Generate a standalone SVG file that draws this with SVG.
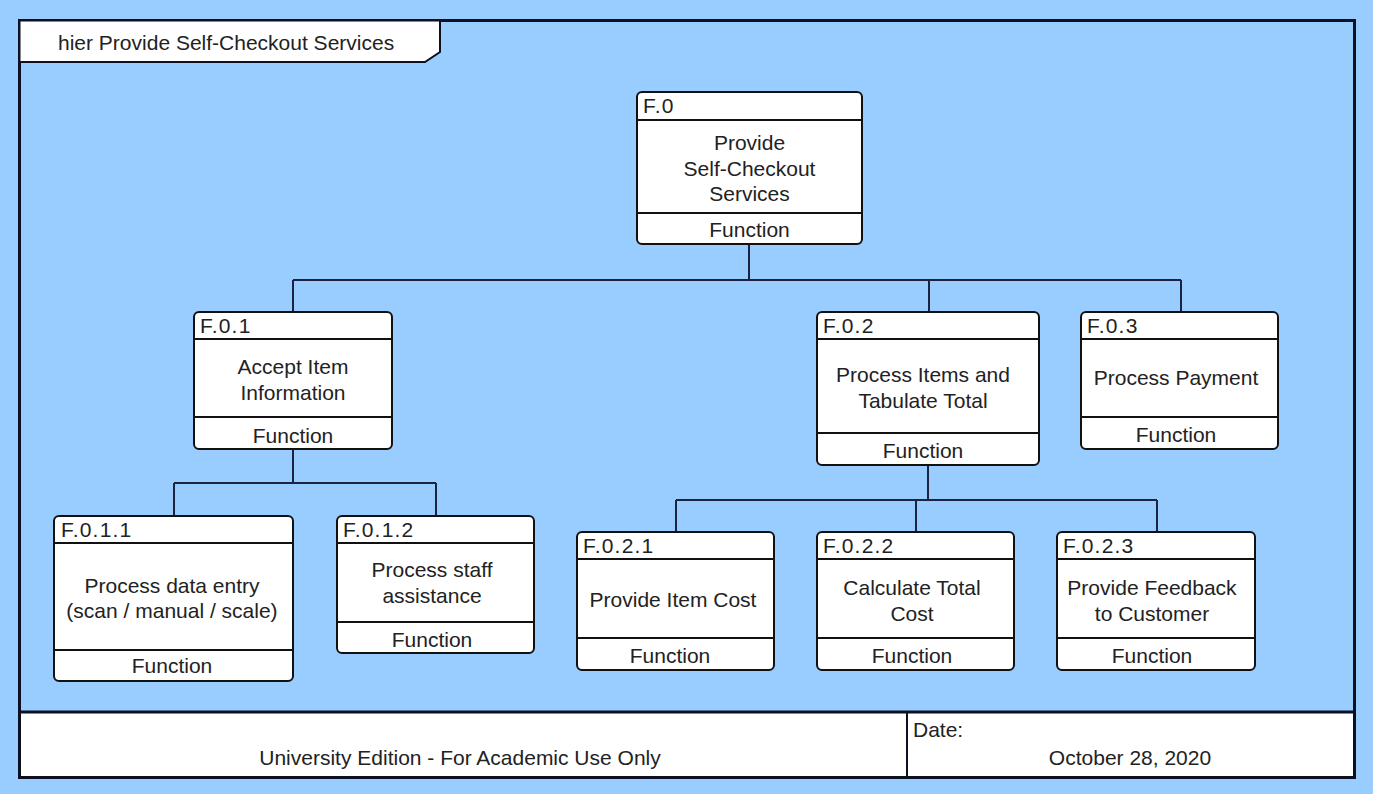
<svg xmlns="http://www.w3.org/2000/svg" width="1373" height="794" viewBox="0 0 1373 794">
<style>
text{font-family:"Liberation Sans",Arial,sans-serif;font-size:21px;fill:#222;}
.id{letter-spacing:1.2px;}
.c{text-anchor:middle;}
.box{fill:#fff;stroke:#111;stroke-width:2;}
.sep{stroke:#111;stroke-width:2;}
.conn{fill:none;stroke:#1a2440;stroke-width:2;}
</style>
<rect x="0" y="0" width="1373" height="794" fill="#99ccff"/>
<g id="frame">
<rect x="19.5" y="20.5" width="1335" height="757" fill="#99ccff" stroke="#0c1020" stroke-width="3"/>
<polygon points="19.5,20.5 440,20.5 440,52 425,62 19.5,62" fill="#fff" stroke="#0c1020" stroke-width="2"/>
<text x="58" y="50">hier Provide Self-Checkout Services</text>
</g>
<g id="footer">
<rect x="19.5" y="712" width="1335" height="65.5" fill="#fff" stroke="#0c1020" stroke-width="3"/>
<line x1="907" y1="712" x2="907" y2="778" stroke="#0c1020" stroke-width="2"/>
<text class="c" x="460" y="765">University Edition - For Academic Use Only</text>
<text x="913" y="737">Date:</text>
<text x="1130" y="765" class="c">October 28, 2020</text>
</g>
<g id="connectors">
<path class="conn" d="M749,244 V280 M293,280 H1181 M293,280 V312 M929,280 V312 M1181,280 V312"/>
<path class="conn" d="M293,449 V483 M174,483 H436 M174,483 V516 M436,483 V516"/>
<path class="conn" d="M928,465 V500 M676,500 H1157 M676,500 V532 M916,500 V532 M1157,500 V532"/>
</g>
<g id="F.0">
<rect class="box" x="637" y="92" width="225" height="152" rx="5"/>
<line class="sep" x1="637" y1="120" x2="862" y2="120"/>
<line class="sep" x1="637" y1="213" x2="862" y2="213"/>
<text class="id" x="643" y="113">F.0</text>
<text class="c" x="749.5" y="150">Provide</text>
<text class="c" x="749.5" y="176">Self-Checkout</text>
<text class="c" x="749.5" y="201">Services</text>
<text class="c" x="749.5" y="237">Function</text>
</g>
<g id="F.0.1">
<rect class="box" x="194" y="312" width="198" height="137" rx="5"/>
<line class="sep" x1="194" y1="339" x2="392" y2="339"/>
<line class="sep" x1="194" y1="417" x2="392" y2="417"/>
<text class="id" x="200" y="333">F.0.1</text>
<text class="c" x="293" y="374">Accept Item</text>
<text class="c" x="293" y="400">Information</text>
<text class="c" x="293" y="443">Function</text>
</g>
<g id="F.0.2">
<rect class="box" x="817" y="312" width="222" height="153" rx="5"/>
<line class="sep" x1="817" y1="339" x2="1039" y2="339"/>
<line class="sep" x1="817" y1="433" x2="1039" y2="433"/>
<text class="id" x="823" y="333">F.0.2</text>
<text class="c" x="923" y="382">Process Items and</text>
<text class="c" x="923" y="408">Tabulate Total</text>
<text class="c" x="923" y="458">Function</text>
</g>
<g id="F.0.3">
<rect class="box" x="1081" y="312" width="197" height="137" rx="5"/>
<line class="sep" x1="1081" y1="339" x2="1278" y2="339"/>
<line class="sep" x1="1081" y1="417" x2="1278" y2="417"/>
<text class="id" x="1087" y="333">F.0.3</text>
<text class="c" x="1176" y="385">Process Payment</text>
<text class="c" x="1176" y="442">Function</text>
</g>
<g id="F.0.1.1">
<rect class="box" x="54" y="516" width="239" height="165" rx="5"/>
<line class="sep" x1="54" y1="543" x2="293" y2="543"/>
<line class="sep" x1="54" y1="650" x2="293" y2="650"/>
<text class="id" x="61" y="537">F.0.1.1</text>
<text class="c" x="172" y="593">Process data entry</text>
<text class="c" x="172" y="618">(scan / manual / scale)</text>
<text class="c" x="172" y="673">Function</text>
</g>
<g id="F.0.1.2">
<rect class="box" x="337" y="516" width="197" height="137" rx="5"/>
<line class="sep" x1="337" y1="543" x2="534" y2="543"/>
<line class="sep" x1="337" y1="622" x2="534" y2="622"/>
<text class="id" x="343" y="537">F.0.1.2</text>
<text class="c" x="432" y="577">Process staff</text>
<text class="c" x="432" y="603">assistance</text>
<text class="c" x="432" y="647">Function</text>
</g>
<g id="F.0.2.1">
<rect class="box" x="577" y="532" width="197" height="138" rx="5"/>
<line class="sep" x1="577" y1="559" x2="774" y2="559"/>
<line class="sep" x1="577" y1="638" x2="774" y2="638"/>
<text class="id" x="583" y="553">F.0.2.1</text>
<text class="c" x="673" y="607">Provide Item Cost</text>
<text class="c" x="670" y="663">Function</text>
</g>
<g id="F.0.2.2">
<rect class="box" x="817" y="532" width="197" height="138" rx="5"/>
<line class="sep" x1="817" y1="559" x2="1014" y2="559"/>
<line class="sep" x1="817" y1="638" x2="1014" y2="638"/>
<text class="id" x="823" y="553">F.0.2.2</text>
<text class="c" x="912" y="595">Calculate Total</text>
<text class="c" x="912" y="621">Cost</text>
<text class="c" x="912" y="663">Function</text>
</g>
<g id="F.0.2.3">
<rect class="box" x="1057" y="532" width="198" height="138" rx="5"/>
<line class="sep" x1="1057" y1="559" x2="1255" y2="559"/>
<line class="sep" x1="1057" y1="638" x2="1255" y2="638"/>
<text class="id" x="1063" y="553">F.0.2.3</text>
<text class="c" x="1152" y="595">Provide Feedback</text>
<text class="c" x="1152" y="621">to Customer</text>
<text class="c" x="1152" y="663">Function</text>
</g>
</svg>
